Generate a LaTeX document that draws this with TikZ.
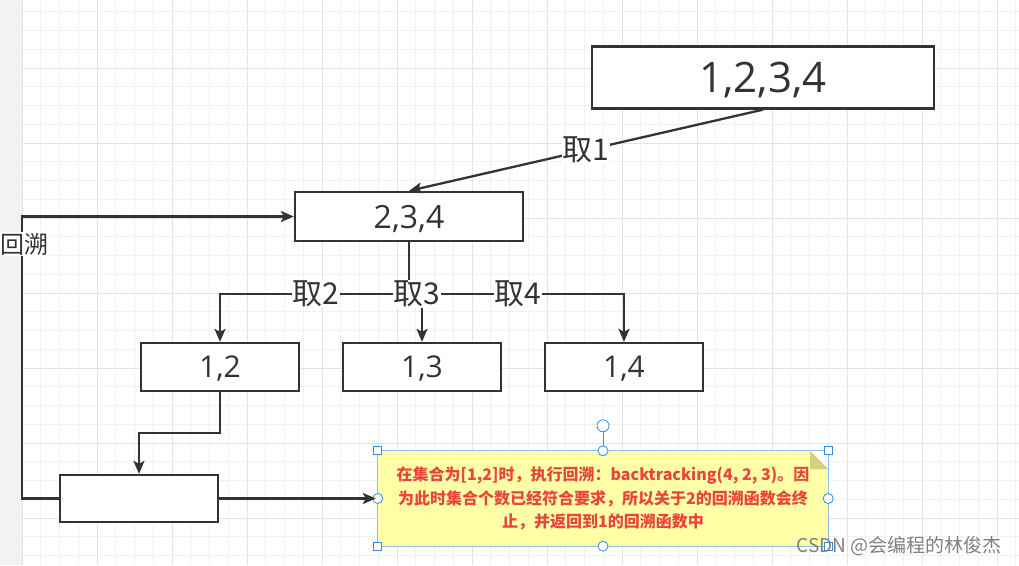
\documentclass[tikz,border=0pt]{standalone}
\usepackage{fontspec}
\setmainfont{Noto Sans CJK SC}
\newfontfamily\numfont{Open Sans}
\usetikzlibrary{arrows.meta}
\definecolor{ink}{HTML}{333333}
\definecolor{gridminor}{HTML}{F1F1F1}
\definecolor{gridmajor}{HTML}{E3E3E3}
\definecolor{notefill}{HTML}{FFFFA8}
\definecolor{notefold}{HTML}{D2D27E}
\definecolor{notetext}{HTML}{E8453C}
\definecolor{selblue}{HTML}{2F8DE4}
\definecolor{selline}{HTML}{8CBDEB}
\tikzset{
  box/.style={draw=ink, line width=2.3pt, fill=white, inner sep=0pt, text=ink},
  conn/.style={draw=ink, line width=2.3pt},
  arr/.style={conn, -{Stealth[length=13pt,width=11pt,inset=3pt]}},
  lbl/.style={fill=white, inner sep=1pt, text=ink, font=\fontsize{30}{32}\selectfont},
  handsq/.style={draw=selblue, fill=white, line width=0.8pt, minimum size=8pt, inner sep=0pt},
  handci/.style={draw=selblue, fill=white, line width=0.8pt, circle, minimum size=10pt, inner sep=0pt},
}
\begin{document}
\begin{tikzpicture}[x=1pt,y=-1pt]
\useasboundingbox (0,0) rectangle (1019,565);
% background grid
\fill[white] (0,0) rectangle (1019,565);
\foreach \i in {0,...,53} {
  \pgfmathsetmacro{\xx}{22+18.75*\i}
  \draw[gridminor, line width=0.8pt] (\xx,0) -- (\xx,565);
}
\foreach \i in {-3,...,26} {
  \pgfmathsetmacro{\yy}{68+18.75*\i}
  \draw[gridminor, line width=0.8pt] (22,\yy) -- (1019,\yy);
}
\foreach \i in {0,...,13} {
  \pgfmathsetmacro{\xx}{22+75*\i}
  \draw[gridmajor, line width=0.9pt] (\xx,0) -- (\xx,565);
}
\foreach \i in {0,...,6} {
  \pgfmathsetmacro{\yy}{68+75*\i}
  \draw[gridmajor, line width=0.9pt] (22,\yy) -- (1019,\yy);
}
\fill[gray!10] (0,0) rectangle (21.5,565);

% boxes
\node[box, text height=30pt, text depth=0pt, minimum width=342pt, minimum height=62pt, font=\numfont\fontsize{42}{44}\selectfont] (n1234) at (763,77.5) {1,2,3,4};
\node[box, text height=23pt, text depth=0pt, minimum width=228pt, minimum height=49pt, font=\numfont\fontsize{32}{34}\selectfont] (n234) at (409,216.5) {2,3,4};
\node[box, text height=21.6pt, text depth=0pt, minimum width=158pt, minimum height=48pt, font=\numfont\fontsize{30}{32}\selectfont] (n12) at (220,367) {1,2};
\node[box, text height=21.6pt, text depth=0pt, minimum width=158pt, minimum height=48pt, font=\numfont\fontsize{30}{32}\selectfont] (n13) at (422,367) {1,3};
\node[box, text height=21.6pt, text depth=0pt, minimum width=158pt, minimum height=48pt, font=\numfont\fontsize{30}{32}\selectfont] (n14) at (624,367) {1,4};
\node[box, minimum width=158pt, minimum height=47pt] (nE) at (139,498.5) {};

% note
\fill[notefill] (378,451) -- (810,451) -- (828,469) -- (828,546) -- (378,546) -- cycle;
\fill[notefold] (810,451) -- (828,469) -- (810,469) -- cycle;
\node[inner sep=0pt, minimum width=450pt, minimum height=95pt, align=center, text=notetext,
  font=\fontsize{16}{23.5}\selectfont\bfseries] (note) at (603,498.5)
  {在集合为[1,2]时，执行回溯：backtracking(4, 2, 3)。因\\为此时集合个数已经符合要求，所以关于2的回溯函数会终\\止，并返回到1的回溯函数中};
\draw[selline, line width=0.9pt] (note.north west) rectangle (note.south east);
\draw[selblue, line width=0.9pt] (note.north) -- ++(0,-25) coordinate (rot);
\node[handci, minimum size=12pt] (roth) at (rot) {};
\foreach \a in {north west, north east, south west, south east} \node[handsq] at (note.\a) {};
\foreach \a in {north, south, east, west} \node[handci] at (note.\a) {};

% connectors
\draw[arr] (n1234.south) -- (n234.north) node[lbl, pos=0.5] (l1) {取1};
\draw[arr] (n234.south) -- ++(0,52) -| (n12.north);
\draw[arr] (n234.south) -- ++(0,52) -| (n13.north);
\draw[arr] (n234.south) -- ++(0,52) -| (n14.north);
\node[lbl] (l2) at (316,294) {取2};
\node[lbl] (l3) at (417,294) {取3};
\node[lbl] (l4) at (518,294) {取4};
\draw[arr] (n12.south) -- ++(0,41) -| (nE.north);
\draw[arr] (nE.east) -- ([xshift=-2pt]note.west);
\coordinate (bk) at (22,498.5);
\draw[arr] (nE.west) -- (bk) |- (n234.west);
\node[fill=white, inner sep=1pt, text=ink, font=\fontsize{24}{26}\selectfont] (lb) at (24,244) {回溯};

% watermark
\node[text=gray, font=\fontsize{19}{21}\selectfont, anchor=east] (wm) at (1005,546) {CSDN @会编程的林俊杰};
\end{tikzpicture}
\end{document}
